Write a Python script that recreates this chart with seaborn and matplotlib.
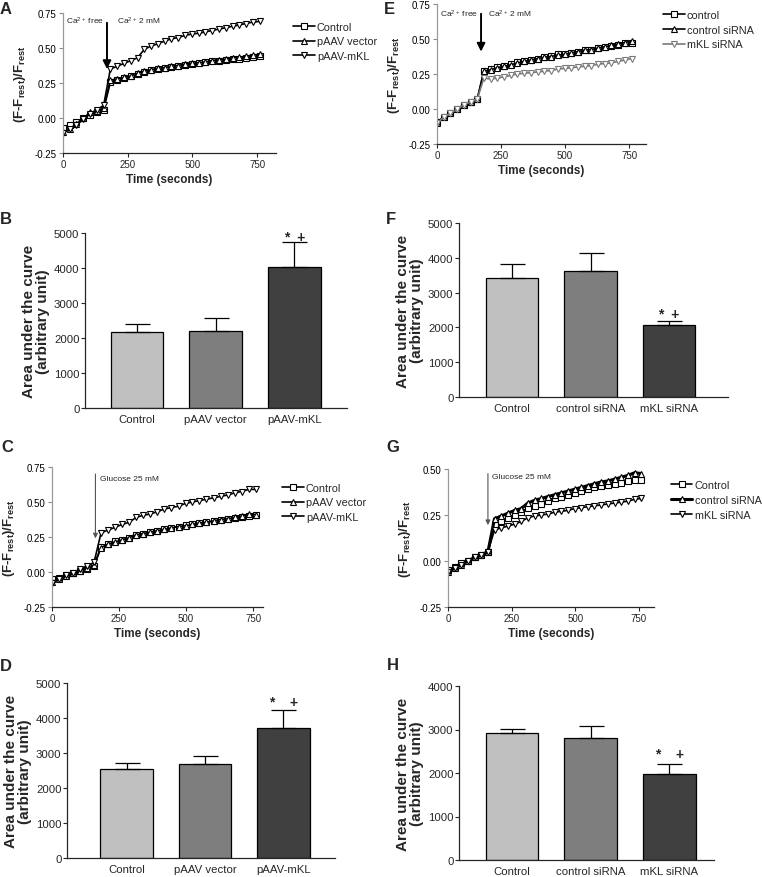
import numpy as np
import matplotlib
matplotlib.use('Agg')
import matplotlib.pyplot as plt
import seaborn as sns

#%% Data

# sampling times (seconds), same for every trace
times = [0, 26, 52, 79, 105, 131, 157, 183, 210, 236, 262, 288, 314, 341, 367,
         393, 419, 445, 472, 498, 524, 550, 576, 603, 629, 655, 681, 707, 734, 760]

# A - Ca2+ add-back, overexpression
a_control = [-0.07, -0.05, -0.03, 0.00, 0.02, 0.04, 0.06,
             0.255, 0.27, 0.285, 0.30, 0.315, 0.33, 0.34, 0.35, 0.36, 0.365, 0.37,
             0.38, 0.385, 0.39, 0.40, 0.405, 0.41, 0.415, 0.42, 0.425, 0.43, 0.435, 0.44]
a_vector = [-0.10, -0.08, -0.04, 0.00, 0.04, 0.05, 0.07,
            0.27, 0.28, 0.29, 0.30, 0.32, 0.335, 0.345, 0.355, 0.36, 0.37, 0.375,
            0.385, 0.39, 0.395, 0.40, 0.41, 0.415, 0.42, 0.43, 0.435, 0.44, 0.45, 0.455]
a_mkl = [-0.11, -0.08, -0.05, -0.01, 0.03, 0.06, 0.09,
         0.35, 0.37, 0.39, 0.41, 0.43, 0.49, 0.515, 0.53, 0.55, 0.565, 0.575,
         0.59, 0.60, 0.605, 0.615, 0.625, 0.635, 0.645, 0.655, 0.665, 0.675, 0.685, 0.69]

# C - glucose, overexpression
c_control = [-0.05, -0.04, -0.02, -0.01, 0.01, 0.02, 0.04,
             0.18, 0.20, 0.22, 0.23, 0.245, 0.265, 0.275, 0.285, 0.295, 0.305, 0.315,
             0.325, 0.335, 0.34, 0.35, 0.355, 0.365, 0.37, 0.38, 0.385, 0.395, 0.40, 0.405]
c_vector = [-0.07, -0.05, -0.03, -0.01, 0.01, 0.03, 0.05,
            0.175, 0.20, 0.215, 0.23, 0.245, 0.265, 0.275, 0.285, 0.295, 0.305, 0.315,
            0.325, 0.33, 0.34, 0.35, 0.355, 0.365, 0.375, 0.38, 0.39, 0.40, 0.415, 0.41]
c_mkl = [-0.08, -0.05, -0.02, -0.01, 0.02, 0.04, 0.07,
         0.28, 0.30, 0.32, 0.34, 0.355, 0.39, 0.405, 0.415, 0.43, 0.45, 0.46,
         0.47, 0.49, 0.50, 0.51, 0.52, 0.53, 0.54, 0.55, 0.565, 0.575, 0.59, 0.59]

# E - Ca2+ add-back, siRNA
e_control = [-0.09, -0.06, -0.03, 0.00, 0.03, 0.05, 0.07,
             0.27, 0.285, 0.30, 0.31, 0.32, 0.335, 0.345, 0.35, 0.36, 0.37, 0.38,
             0.39, 0.395, 0.40, 0.41, 0.42, 0.425, 0.435, 0.44, 0.45, 0.46, 0.47, 0.475]
e_sicontrol = [-0.10, -0.06, -0.03, 0.00, 0.03, 0.05, 0.07,
               0.27, 0.28, 0.295, 0.305, 0.315, 0.33, 0.34, 0.35, 0.36, 0.37, 0.375,
               0.385, 0.39, 0.40, 0.41, 0.42, 0.425, 0.435, 0.445, 0.455, 0.465, 0.475, 0.485]
e_simkl = [-0.10, -0.06, -0.03, 0.00, 0.03, 0.05, 0.07,
           0.22, 0.215, 0.22, 0.23, 0.24, 0.25, 0.255, 0.26, 0.265, 0.27, 0.275,
           0.285, 0.29, 0.295, 0.30, 0.305, 0.31, 0.32, 0.325, 0.33, 0.34, 0.35, 0.36]

# G - glucose, siRNA
g_control = [-0.05, -0.03, -0.01, 0.00, 0.02, 0.03, 0.05,
             0.195, 0.215, 0.235, 0.25, 0.265, 0.29, 0.30, 0.31, 0.325, 0.34, 0.35,
             0.36, 0.37, 0.38, 0.39, 0.40, 0.405, 0.415, 0.42, 0.425, 0.435, 0.44, 0.44]
g_sicontrol = [-0.06, -0.04, -0.02, 0.00, 0.02, 0.035, 0.05,
               0.23, 0.245, 0.26, 0.275, 0.285, 0.315, 0.33, 0.34, 0.35, 0.36, 0.37,
               0.38, 0.39, 0.40, 0.41, 0.42, 0.43, 0.435, 0.445, 0.455, 0.465, 0.48, 0.475]
g_simkl = [-0.06, -0.04, -0.02, 0.00, 0.02, 0.03, 0.05,
           0.17, 0.18, 0.19, 0.20, 0.215, 0.235, 0.245, 0.25, 0.255, 0.265, 0.27,
           0.275, 0.285, 0.29, 0.295, 0.30, 0.305, 0.31, 0.315, 0.32, 0.325, 0.335, 0.34]

# bar charts: area under the curve, mean and SEM
groups_oe = ['Control', 'pAAV vector', 'pAAV-mKL']
groups_si = ['Control', 'control siRNA', 'mKL siRNA']
b_auc, b_sem = [2180, 2190, 4020], [230, 390, 730]
d_auc, d_sem = [2530, 2690, 3720], [190, 220, 510]
f_auc, f_sem = [3410, 3630, 2080], [400, 500, 110]
h_auc, h_sem = [2910, 2810, 1980], [110, 270, 230]

#%% Style

sns.set_style('ticks')
plt.rcParams['font.family'] = ['Liberation Sans', 'DejaVu Sans']
plt.rcParams['mathtext.fontset'] = 'custom'
plt.rcParams['mathtext.rm'] = 'Liberation Sans'
plt.rcParams['mathtext.bf'] = 'Liberation Sans:bold'
plt.rcParams['mathtext.it'] = 'Liberation Sans:italic'

W, H = 762, 878
fig = plt.figure(figsize=(W / 100, H / 100), dpi=100)


def px_axes(l, t, r, b):
    return fig.add_axes([l / W, 1 - b / H, (r - l) / W, (b - t) / H])


bar_colors = ['#c0c0c0', '#7e7e7e', '#404040']
ylab_line = r'(F-F$_{\mathbf{rest}}$)/F$_{\mathbf{rest}}$'


def line_panel(ax, traces, labels, colors, widths, xmax, ylim, yticks, leg_xy):
    markers = ['s', '^', 'v']
    for vals, lab, mk, col, lw in zip(traces, labels, markers, colors, widths):
        sns.lineplot(x=times, y=vals, ax=ax, color=col, lw=lw, marker=mk,
                     markersize=4, markerfacecolor='white', markeredgecolor=col,
                     markeredgewidth=0.8, label=lab)
    ax.set_xlim(0, xmax)
    ax.set_ylim(*ylim)
    ax.set_xticks([0, 250, 500, 750])
    ax.set_yticks(yticks)
    ax.set_yticklabels(['%.2f' % v for v in yticks])
    ax.tick_params(labelsize=7, length=3, width=0.8, pad=1.5)
    ax.tick_params(axis='y', colors='#8c8c8c', labelcolor='black')
    ax.spines['left'].set_color('#9a9a9a')
    for s in ['left', 'bottom']:
        ax.spines[s].set_linewidth(0.9)
    sns.despine(ax=ax)
    ax.set_xlabel('Time (seconds)', fontsize=8.5, fontweight='bold', labelpad=3)
    ax.set_ylabel(ylab_line, fontsize=9.5, fontweight='bold', labelpad=5)
    ax.legend(loc='upper left', bbox_to_anchor=leg_xy, frameon=False, fontsize=7.8,
              handlelength=2.0, handletextpad=0.2, labelspacing=0.45, borderaxespad=0)


def bar_panel(ax, groups, auc, sem, xlim, ymax, ystep, star_y, star_txt):
    sns.barplot(x=groups, y=auc, hue=groups, palette=bar_colors, edgecolor='black',
                linewidth=0.9, width=0.67, ax=ax, legend=False, saturation=1)
    ax.errorbar(range(3), auc, yerr=[np.zeros(3), sem], fmt='none', ecolor='black',
                elinewidth=0.9, capsize=9, capthick=0.9)
    ax.set_xlim(*xlim)
    ax.set_ylim(0, ymax)
    ax.set_yticks(np.arange(0, ymax + 1, ystep))
    ax.tick_params(labelsize=8.2, length=3, width=0.8, pad=1)
    ax.tick_params(axis='x', length=0, pad=4)
    for s in ['left', 'bottom']:
        ax.spines[s].set_linewidth(0.9)
    sns.despine(ax=ax)
    ax.set_ylabel('Area under the curve\n(arbitrary unit)', fontsize=11,
                  fontweight='bold', linespacing=1.0, labelpad=3)
    ax.text(2, star_y, star_txt, ha='center', va='center', fontsize=10, fontweight='bold')


#%% A
axA = px_axes(63, 14, 276, 154)
line_panel(axA, [a_control, a_vector, a_mkl], ['Control', 'pAAV vector', 'pAAV-mKL'],
           ['black'] * 3, [1.2] * 3, 823, (-0.25, 0.75), [-0.25, 0, 0.25, 0.5, 0.75], (1.06, 0.97))
axA.annotate('', xy=(170, 0.33), xytext=(170, 0.70),
             arrowprops=dict(arrowstyle='-|>', lw=1.4, color='black', mutation_scale=12))
axA.text(10, 0.695, 'Ca$^{2+}$ free', fontsize=6, va='center')
axA.text(208, 0.695, 'Ca$^{2+}$ 2 mM', fontsize=6, va='center')

#%% E
axE = px_axes(437, 5, 646, 145)
line_panel(axE, [e_control, e_sicontrol, e_simkl], ['control', 'control siRNA', 'mKL siRNA'],
           ['black', 'black', '#7a7a7a'], [1.2] * 3, 816, (-0.25, 0.75),
           [-0.25, 0, 0.25, 0.5, 0.75], (1.06, 0.99))
axE.annotate('', xy=(172, 0.39), xytext=(172, 0.70),
             arrowprops=dict(arrowstyle='-|>', lw=1.4, color='black', mutation_scale=12))
axE.text(12, 0.68, 'Ca$^{2+}$ free', fontsize=6, va='center')
axE.text(200, 0.68, 'Ca$^{2+}$ 2 mM', fontsize=6, va='center')

#%% C
axC = px_axes(52, 468, 263, 608)
line_panel(axC, [c_control, c_vector, c_mkl], ['Control', 'pAAV vector', 'pAAV-mKL'],
           ['black'] * 3, [1.2] * 3, 787, (-0.25, 0.75), [-0.25, 0, 0.25, 0.5, 0.75], (1.07, 0.92))
axC.annotate('', xy=(162, 0.22), xytext=(162, 0.72),
             arrowprops=dict(arrowstyle='-|>', lw=0.8, color='#555555', mutation_scale=7))
axC.text(178, 0.67, 'Glucose 25 mM', fontsize=6, va='center')

#%% G
axG = px_axes(448, 470, 654, 608)
line_panel(axG, [g_control, g_sicontrol, g_simkl], ['Control', 'control siRNA', 'mKL siRNA'],
           ['black'] * 3, [1.2, 2.2, 1.2], 810, (-0.25, 0.5), [-0.25, 0, 0.25, 0.5], (1.06, 0.95))
axG.annotate('', xy=(157, 0.18), xytext=(157, 0.49),
             arrowprops=dict(arrowstyle='-|>', lw=0.8, color='#555555', mutation_scale=7))
axG.text(174, 0.46, 'Glucose 25 mM', fontsize=6, va='center')

#%% Bars
axB = px_axes(85, 234, 347, 409)
bar_panel(axB, groups_oe, b_auc, b_sem, (-0.66, 2.67), 5000, 1000, 4890, '*  +')
axF = px_axes(459, 224, 728, 398)
bar_panel(axF, groups_si, f_auc, f_sem, (-0.675, 2.75), 5000, 1000, 2390, '*  +')
axD = px_axes(67, 684, 335, 859)
bar_panel(axD, groups_oe, d_auc, d_sem, (-0.76, 2.66), 5000, 1000, 4460, '*    +')
axH = px_axes(459, 687, 714, 861)
bar_panel(axH, groups_si, h_auc, h_sem, (-0.675, 2.57), 4000, 1000, 2430, '*    +')

#%% Panel letters
for letter, x, y in [('A', 6, 9), ('E', 389, 9), ('B', 6, 220), ('F', 391, 220),
                     ('C', 7, 448), ('G', 393, 448), ('D', 6, 667), ('H', 393, 666)]:
    fig.text(x / W, 1 - y / H, letter, fontsize=12, fontweight='bold', ha='center', va='center')

plt.savefig('out.png', dpi=100)
